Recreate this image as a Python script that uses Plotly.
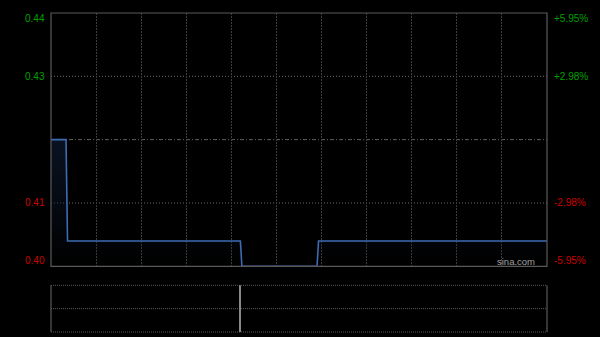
import plotly.graph_objects as go

# ---- data ----
prev_close = 0.42
y_min, y_max = 0.395, 0.445
price_minutes = [0, 10, 11, 126, 127, 177, 178, 330]
price_values = [0.42, 0.42, 0.40, 0.40, 0.395, 0.395, 0.40, 0.40]
vol_minutes = [126]
vol_values = [1.0]
vol_max = 1.0
left_label_vals = [0.445, 0.4325, 0.4075, 0.395]
left_label_text = ["0.44", "0.43", "0.41", "0.40"]
right_label_text = ["+5.95%", "+2.98%", "-2.98%", "-5.95%"]
label_colors = ["#00a000", "#00a000", "#cc0000", "#cc0000"]
label_shift = [-5.5, 0, 0, 5.5]
watermark = "sina.com"

fig = go.Figure()

# baseline for gradient fill
fig.add_trace(go.Scatter(x=[price_minutes[0], price_minutes[-1]], y=[y_min, y_min],
                         mode="lines", line=dict(width=0), hoverinfo="skip",
                         showlegend=False, xaxis="x", yaxis="y"))
fig.add_trace(go.Scatter(x=price_minutes, y=price_values, mode="lines",
                         line=dict(color="#3d6cb3", width=1.6),
                         fill="tonexty",
                         fillgradient=dict(type="vertical",
                                           colorscale=[[0, "rgba(12,22,40,0)"],
                                                       [1, "rgba(12,22,40,0.85)"]]),
                         showlegend=False, xaxis="x", yaxis="y"))

fig.add_trace(go.Bar(x=vol_minutes, y=vol_values, width=0.6,
                     marker=dict(color="#8a8a8a", line=dict(width=0)),
                     showlegend=False, xaxis="x2", yaxis="y2"))

grid_col = "#3c3c3c"
border_col = "#5a5a5a"

shapes = []
# horizontal gridlines main panel
for v in [0.4325, 0.4075]:
    shapes.append(dict(type="line", xref="x", yref="y", x0=0, x1=330, y0=v, y1=v,
                       line=dict(color="#6a6a6a", width=1, dash="1px,2px"), layer="below"))
shapes.append(dict(type="line", xref="x", yref="y", x0=0, x1=330, y0=prev_close, y1=prev_close,
                   line=dict(color="#5e5e5e", width=1, dash="4px,2px,1px,2px"), layer="below"))
# main border
shapes.append(dict(type="rect", xref="x domain", yref="y domain", x0=0, x1=1, y0=0, y1=1,
                   line=dict(color=border_col, width=1.2), layer="above"))
# volume panel lines
for yy in [0, 0.5, 1]:
    shapes.append(dict(type="line", xref="x2 domain", yref="y2 domain", x0=0, x1=1, y0=yy, y1=yy,
                       line=dict(color="#5a5a5a", width=1, dash="1px,1px"), layer="below"))
for xx in [0, 1]:
    shapes.append(dict(type="line", xref="x2 domain", yref="y2 domain", x0=xx, x1=xx, y0=0, y1=1,
                       line=dict(color=border_col, width=1.2), layer="above"))

annotations = []
for v, lt, rt, c, s in zip(left_label_vals, left_label_text, right_label_text, label_colors, label_shift):
    annotations.append(dict(xref="paper", yref="y", x=0, y=v, yshift=s, xshift=-4,
                            text=lt, showarrow=False, xanchor="right", yanchor="middle",
                            font=dict(family="Liberation Sans, Arial", size=10, color=c)))
    annotations.append(dict(xref="paper", yref="y", x=1, y=v, yshift=s, xshift=5,
                            text=rt, showarrow=False, xanchor="left", yanchor="middle",
                            font=dict(family="Liberation Sans, Arial", size=10, color=c)))
annotations.append(dict(xref="paper", yref="y", x=0.98, y=y_min, yshift=5, text=watermark,
                        showarrow=False, xanchor="right", yanchor="middle",
                        font=dict(family="Liberation Sans, Arial", size=9.5, color="#a0a0a0")))

fig.update_layout(
    width=600, height=337,
    margin=dict(l=51, r=53, t=13, b=5),
    paper_bgcolor="#000000", plot_bgcolor="#000000",
    showlegend=False,
    xaxis=dict(domain=[0, 1], range=[0, 330], dtick=30, tick0=0, showgrid=True,
               gridcolor=grid_col, griddash="2px,1px", gridwidth=1,
               showticklabels=False, zeroline=False, ticks="", anchor="y"),
    yaxis=dict(domain=[0.206, 1], range=[y_min, y_max], showgrid=False,
               showticklabels=False, zeroline=False, ticks="", anchor="x"),
    xaxis2=dict(domain=[0, 1], range=[0, 330], showgrid=False, showticklabels=False,
                zeroline=False, ticks="", anchor="y2"),
    yaxis2=dict(domain=[0, 0.1464], range=[0, vol_max], showgrid=False,
                showticklabels=False, zeroline=False, ticks="", anchor="x2"),
    shapes=shapes, annotations=annotations,
    bargap=0,
)

fig.write_html("out.html")
